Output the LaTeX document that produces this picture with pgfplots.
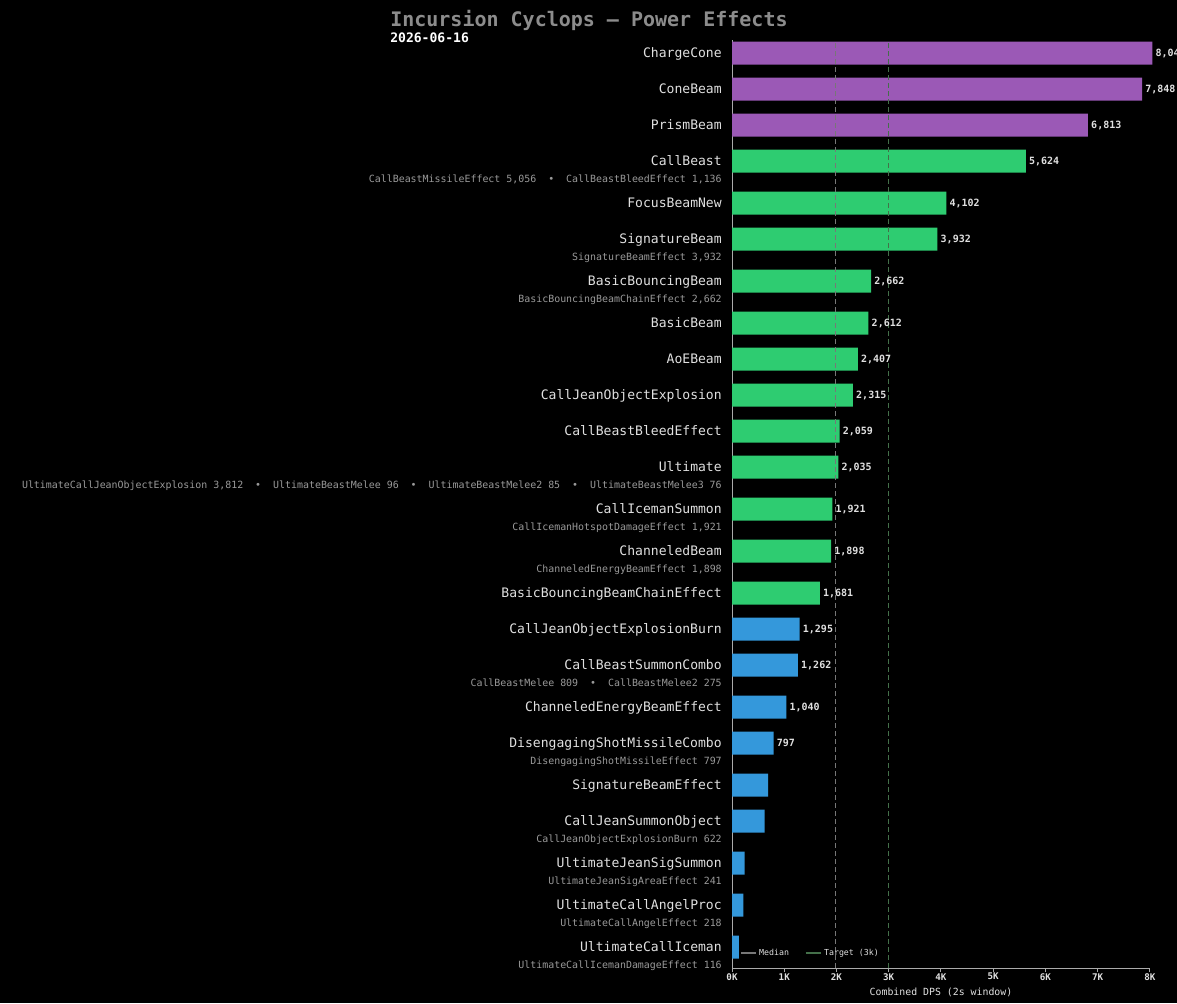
\documentclass[border=0pt]{standalone}
\usepackage{pgfplots}
\pgfplotsset{compat=1.18}
\usepackage{fontspec}
\setmainfont{DejaVu Sans Mono}
\setmonofont{DejaVu Sans Mono}
\definecolor{purp}{HTML}{9B59B6}
\definecolor{grn}{HTML}{2ECC71}
\definecolor{blu}{HTML}{3498DB}
\definecolor{titlec}{HTML}{8C8C8C}
\definecolor{labc}{HTML}{E0E0E0}
\definecolor{subc}{HTML}{9A9A9A}
\definecolor{axc}{HTML}{AAAAAA}
\definecolor{medc}{HTML}{777777}
\definecolor{tgtc}{HTML}{44704A}
\begin{document}
\begin{tikzpicture}
\useasboundingbox (0,0) rectangle (882.75pt,-752.25pt);
\fill[black] (0,0) rectangle (882.75pt,-752.25pt);
\node[anchor=west, inner sep=0pt, text=titlec, font=\fontsize{15}{18}\selectfont\bfseries] at (292.5pt,-15pt) {Incursion Cyclops — Power Effects};
\node[anchor=west, inner sep=0pt, text=white, font=\fontsize{9.8}{12}\selectfont\bfseries] at (292.5pt,-28.5pt) {2026-06-16};
\begin{axis}[
  at={(549pt,-726pt)}, anchor=south west,
  width=313.5pt, height=696pt, scale only axis,
  xmin=0, xmax=8000, ymin=-968, ymax=-40,
  clip=false,
  axis x line*=bottom, axis y line*=left,
  axis line style={axc, line width=0.75pt, -},
  xtick={0,1000,2000,3000,4000,5000,6000,7000,8000},
  xticklabels={0K,1K,2K,3K,4K,5K,6K,7K,8K},
  x tick style={axc, line width=0.75pt},
  major tick length=3pt, tick align=outside,
  xticklabel style={font=\fontsize{6.9}{8}\selectfont\bfseries, text=labc, anchor=center, yshift=-3.5pt},
  xlabel={Combined DPS (2s window)},
  xlabel style={font=\fontsize{7.4}{9}\selectfont, text=labc, at={(axis description cs:0.5,0)}, anchor=center, yshift=-18pt},
  ytick={-53,-89,-125,-161,-203,-239,-281,-323,-359,-395,-431,-467,-509,-551,-593,-629,-665,-707,-743,-785,-821,-863,-905,-947},
  yticklabels={ChargeCone,ConeBeam,PrismBeam,CallBeast,FocusBeamNew,SignatureBeam,BasicBouncingBeam,BasicBeam,AoEBeam,CallJeanObjectExplosion,CallBeastBleedEffect,Ultimate,CallIcemanSummon,ChanneledBeam,BasicBouncingBeamChainEffect,CallJeanObjectExplosionBurn,CallBeastSummonCombo,ChanneledEnergyBeamEffect,DisengagingShotMissileCombo,SignatureBeamEffect,CallJeanSummonObject,UltimateJeanSigSummon,UltimateCallAngelProc,UltimateCallIceman},
  y tick style={draw=none},
  yticklabel style={font=\fontsize{9.8}{12}\selectfont, text=labc, anchor=east, inner sep=0pt, xshift=-4.5pt, text height=1.6ex, text depth=0.3ex},
  extra y ticks={-177.5,-255.5,-297.5,-483.5,-525.5,-567.5,-681.5,-759.5,-837.5,-879.5,-921.5,-963.5},
  extra y tick labels={{CallBeastMissileEffect 5,056~~•~~CallBeastBleedEffect 1,136},{SignatureBeamEffect 3,932},{BasicBouncingBeamChainEffect 2,662},{UltimateCallJeanObjectExplosion 3,812~~•~~UltimateBeastMelee 96~~•~~UltimateBeastMelee2 85~~•~~UltimateBeastMelee3 76},{CallIcemanHotspotDamageEffect 1,921},{ChanneledEnergyBeamEffect 1,898},{CallBeastMelee 809~~•~~CallBeastMelee2 275},{DisengagingShotMissileEffect 797},{CallJeanObjectExplosionBurn 622},{UltimateJeanSigAreaEffect 241},{UltimateCallAngelEffect 218},{UltimateCallIcemanDamageEffect 116}},
  extra y tick style={tick style={draw=none}, yticklabel style={font=\fontsize{7.45}{9}\selectfont, text=subc}},
  /pgf/number format/fixed, /pgf/number format/precision=0,
  /pgf/number format/1000 sep={,}, /pgf/number format/assume math mode=true,
  legend image code/.code={\draw[#1, solid, line width=1pt] (0pt,0pt) -- (11.25pt,0pt);},
  legend columns=2,
  legend style={at={(axis description cs:0.019,0.016)}, anchor=west, draw=none, fill=none, text=labc, font=\fontsize{6.2}{7}\selectfont, inner sep=0pt, /tikz/every even column/.append style={column sep=10pt}},
  value/.style={xbar, bar width=17.25pt, bar shift=0pt, draw=none, forget plot},
  vlab/.style={nodes near coords, point meta=x, every node near coord/.style={anchor=west, inner sep=0pt, xshift=2.25pt, font=\fontsize{7.5}{9}\selectfont\bfseries, text=labc}},
]
\addplot[value, vlab, fill=purp] coordinates {(8045,-53) (7848,-89) (6813,-125)};
\addplot[value, vlab, fill=grn] coordinates {(5624,-161) (4102,-203) (3932,-239) (2662,-281) (2612,-323) (2407,-359) (2315,-395) (2059,-431) (2035,-467) (1921,-509) (1898,-551) (1681,-593)};
\addplot[value, vlab, fill=blu] coordinates {(1295,-629) (1262,-665) (1040,-707) (797,-743)};
\addplot[value, fill=blu] coordinates {(689,-785) (622,-821) (241,-863) (218,-905) (130,-947)};
\addplot[medc, line width=0.75pt, dash pattern=on 3.75pt off 2.25pt] coordinates {(1978,-968) (1978,-42)};
\addlegendentry{Median}
\addplot[tgtc, line width=0.75pt, dash pattern=on 3.75pt off 2.25pt] coordinates {(3000,-968) (3000,-42)};
\addlegendentry{Target (3k)}
\end{axis}
\end{tikzpicture}
\end{document}
